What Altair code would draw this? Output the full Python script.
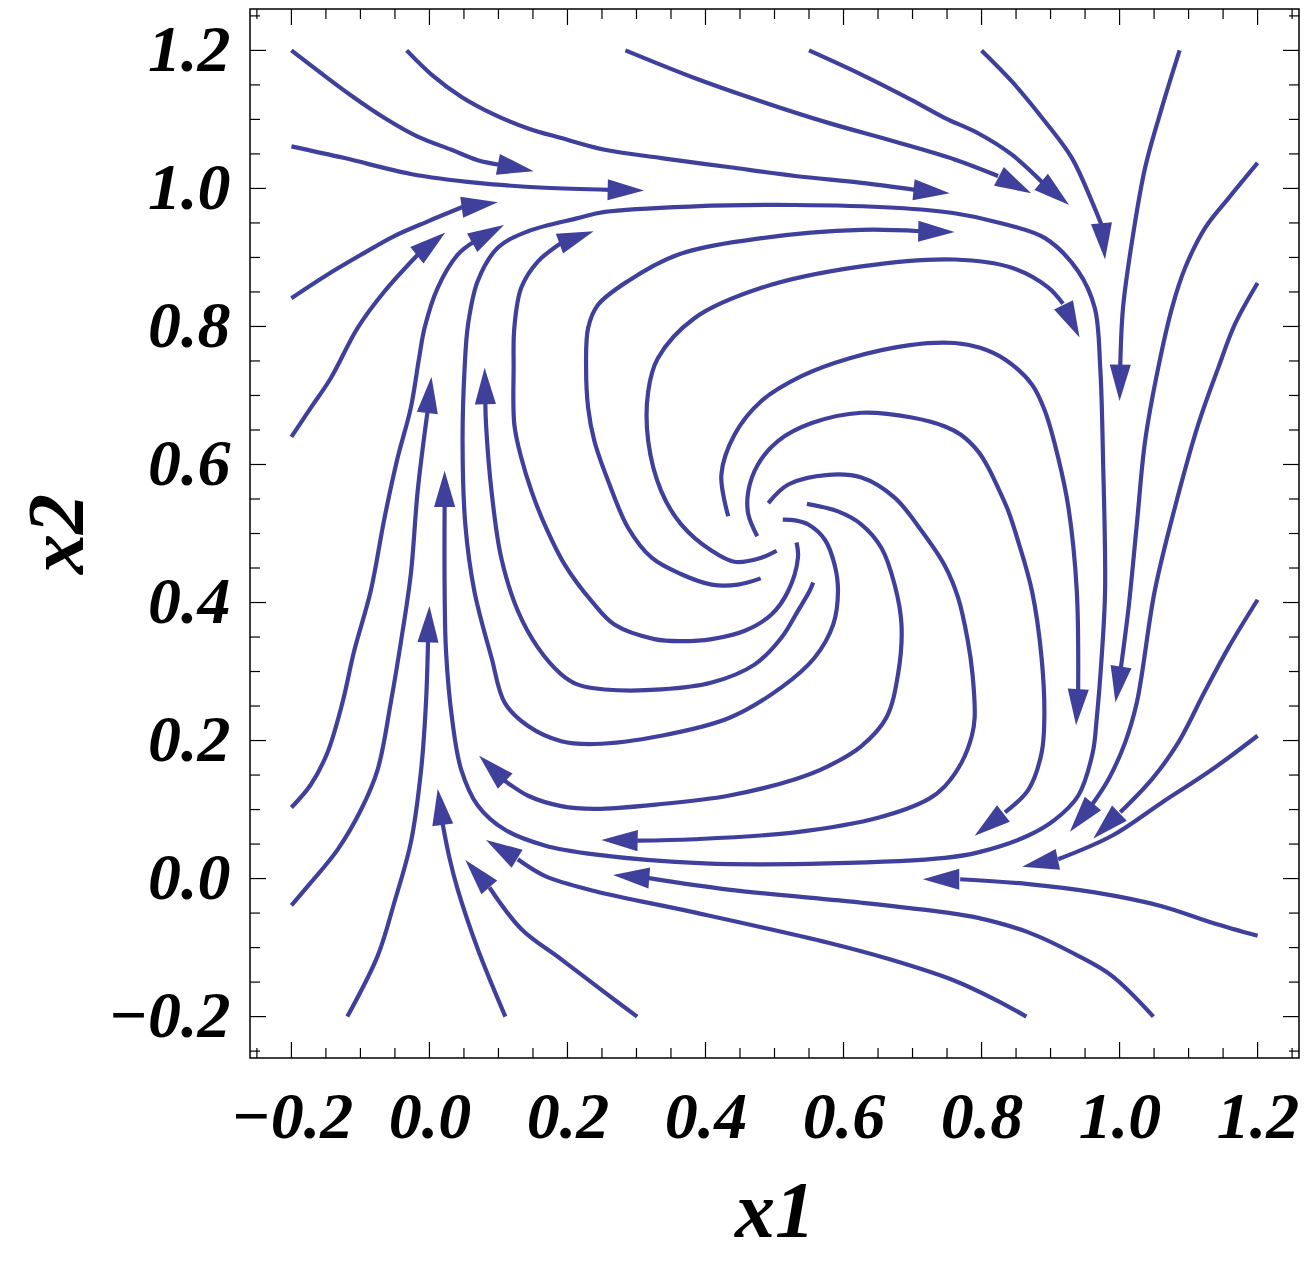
import math
import altair as alt
import pandas as pd

# ---- streamlines (data coords), each runs along the flow; last point = arrow tip ----
t1 = [(-0.200, 1.200), (-0.157, 1.167), (-0.114, 1.135), (-0.065, 1.102), (-0.017, 1.075),
      (0.032, 1.056), (0.070, 1.041), (0.104, 1.034), (0.151, 1.025)]
t2 = [(-0.033, 1.200), (0.003, 1.165), (0.046, 1.133), (0.094, 1.107), (0.143, 1.087), (0.191, 1.073),
      (0.254, 1.056), (0.336, 1.044), (0.433, 1.031), (0.530, 1.018), (0.626, 1.008), (0.704, 0.998),
      (0.754, 0.993)]
t3 = [(0.284, 1.200), (0.384, 1.160), (0.481, 1.126), (0.578, 1.095), (0.674, 1.068), (0.761, 1.042),
      (0.824, 1.018), (0.872, 0.993)]
t4 = [(0.550, 1.200), (0.626, 1.165), (0.699, 1.128), (0.747, 1.102), (0.795, 1.080), (0.844, 1.049),
      (0.892, 1.005), (0.927, 0.976)]
t5 = [(0.800, 1.200), (0.844, 1.155), (0.892, 1.097), (0.931, 1.044), (0.960, 0.981), (0.974, 0.947),
      (0.979, 0.897)]
t6 = [(1.087, 1.200), (1.061, 1.116), (1.037, 1.030), (1.018, 0.923), (1.005, 0.827), (1.001, 0.743),
      (1.000, 0.692)]
l1 = [(-0.200, 1.061), (-0.123, 1.044), (-0.027, 1.021), (0.070, 1.008), (0.167, 1.001), (0.261, 0.998),
      (0.311, 0.997)]
l2 = [(-0.200, 0.841), (-0.148, 0.875), (-0.099, 0.904), (-0.051, 0.931), (-0.003, 0.952), (0.048, 0.973),
      (0.099, 0.980)]
l3 = [(-0.200, 0.640), (-0.172, 0.682), (-0.143, 0.725), (-0.104, 0.798), (-0.065, 0.851), (-0.017, 0.904),
      (0.023, 0.936)]
l4 = [(-0.200, 0.103), (-0.172, 0.136), (-0.148, 0.182), (-0.126, 0.255), (-0.109, 0.330), (-0.085, 0.417),
      (-0.065, 0.523), (-0.046, 0.610), (-0.027, 0.682), (-0.015, 0.754), (-0.007, 0.798), (0.012, 0.856),
      (0.041, 0.904), (0.065, 0.923), (0.108, 0.947)]
l5 = [(-0.200, -0.039), (-0.172, -0.006), (-0.133, 0.042), (-0.099, 0.100), (-0.075, 0.158), (-0.056, 0.255),
      (-0.041, 0.345), (-0.027, 0.441), (-0.017, 0.562), (-0.003, 0.675), (0.003, 0.727)]
b1 = [(-0.119, -0.200), (-0.075, -0.112), (-0.051, -0.035), (-0.027, 0.052), (-0.012, 0.158), (-0.005, 0.255),
      (-0.002, 0.345), (0.000, 0.395)]
b2 = [(0.110, -0.200), (0.070, -0.102), (0.041, -0.016), (0.029, 0.030), (0.019, 0.080), (0.012, 0.130)]
b3 = [(0.301, -0.200), (0.254, -0.165), (0.191, -0.117), (0.133, -0.073), (0.087, -0.013), (0.052, 0.027)]
b4 = [(0.865, -0.200), (0.819, -0.175), (0.761, -0.148), (0.667, -0.117), (0.578, -0.093), (0.384, -0.049),
      (0.239, -0.018), (0.167, 0.004), (0.128, 0.028), (0.082, 0.056)]
b5 = [(1.049, -0.200), (0.989, -0.141), (0.940, -0.112), (0.868, -0.078), (0.795, -0.057), (0.747, -0.049),
      (0.626, -0.035), (0.433, -0.016), (0.316, 0.001), (0.266, 0.005)]
r1 = [(1.200, 1.037), (1.158, 0.986), (1.124, 0.943), (1.095, 0.885), (1.076, 0.827), (1.056, 0.740),
      (1.037, 0.634), (1.025, 0.513), (1.013, 0.392), (1.002, 0.306), (0.994, 0.255)]
r2 = [(1.200, 0.863), (1.167, 0.803), (1.143, 0.740), (1.114, 0.658), (1.080, 0.537), (1.051, 0.417),
      (1.025, 0.255), (1.008, 0.197), (0.984, 0.144), (0.960, 0.107), (0.928, 0.068)]
r3 = [(1.200, 0.404), (1.158, 0.335), (1.124, 0.272), (1.085, 0.197), (1.047, 0.144), (1.001, 0.096),
      (0.962, 0.058)]
r4 = [(1.200, 0.207), (1.134, 0.158), (1.061, 0.110), (0.989, 0.062), (0.911, 0.028), (0.859, 0.017)]
r5 = [(1.200, -0.083), (1.134, -0.064), (1.061, -0.040), (0.964, -0.020), (0.868, -0.008), (0.769, -0.001),
      (0.715, -0.001)]
c1 = [(0.433, 0.525), (0.423, 0.585), (0.442, 0.643), (0.481, 0.692), (0.539, 0.728), (0.609, 0.754),
      (0.696, 0.773), (0.761, 0.776), (0.798, 0.769), (0.834, 0.752), (0.873, 0.716), (0.892, 0.677),
      (0.911, 0.610), (0.926, 0.537), (0.938, 0.417), (0.940, 0.272), (0.937, 0.222)]
c2 = [(0.503, 0.475), (0.481, 0.465), (0.442, 0.459), (0.409, 0.475), (0.365, 0.513), (0.336, 0.561),
      (0.317, 0.634), (0.317, 0.706), (0.331, 0.754), (0.384, 0.812), (0.481, 0.856), (0.626, 0.887),
      (0.761, 0.897), (0.844, 0.885), (0.896, 0.857), (0.918, 0.833), (0.942, 0.784)]
c3 = [(0.512, 0.520), (0.530, 0.519), (0.549, 0.513), (0.573, 0.491), (0.587, 0.455), (0.592, 0.417),
      (0.585, 0.368), (0.558, 0.320), (0.510, 0.277), (0.435, 0.233), (0.336, 0.207), (0.239, 0.195),
      (0.191, 0.199), (0.143, 0.221), (0.109, 0.255), (0.090, 0.320), (0.065, 0.417), (0.052, 0.513),
      (0.048, 0.634), (0.051, 0.740), (0.056, 0.803), (0.070, 0.866), (0.099, 0.914), (0.143, 0.938),
      (0.215, 0.957), (0.254, 0.966), (0.384, 0.974), (0.530, 0.976), (0.674, 0.972), (0.761, 0.964),
      (0.827, 0.950), (0.892, 0.928), (0.940, 0.880), (0.964, 0.827), (0.972, 0.740), (0.976, 0.610),
      (0.979, 0.417), (0.974, 0.320), (0.967, 0.233), (0.961, 0.182), (0.940, 0.120), (0.906, 0.085),
      (0.867, 0.062), (0.795, 0.038), (0.747, 0.030), (0.577, 0.022), (0.399, 0.022), (0.239, 0.035),
      (0.167, 0.048), (0.109, 0.071), (0.070, 0.106), (0.046, 0.158), (0.033, 0.230), (0.024, 0.330),
      (0.022, 0.421), (0.022, 0.540), (0.022, 0.591)]
c4 = [(0.532, 0.487), (0.534, 0.465), (0.520, 0.417), (0.496, 0.383), (0.457, 0.359), (0.409, 0.347),
      (0.365, 0.344), (0.326, 0.347), (0.268, 0.368), (0.235, 0.402), (0.196, 0.455), (0.167, 0.513),
      (0.148, 0.561), (0.133, 0.610), (0.123, 0.658), (0.122, 0.740), (0.123, 0.798), (0.133, 0.856),
      (0.157, 0.894), (0.191, 0.921), (0.238, 0.938)]
c5 = [(0.475, 0.496), (0.462, 0.528), (0.462, 0.561), (0.476, 0.600), (0.505, 0.634), (0.554, 0.660),
      (0.626, 0.675), (0.699, 0.668), (0.747, 0.655), (0.770, 0.643), (0.795, 0.619), (0.810, 0.595),
      (0.824, 0.566), (0.839, 0.532), (0.853, 0.489), (0.873, 0.417), (0.887, 0.320), (0.891, 0.233),
      (0.887, 0.182), (0.868, 0.129), (0.834, 0.096), (0.790, 0.062)]
c6 = [(0.491, 0.544), (0.520, 0.571), (0.578, 0.585), (0.626, 0.581), (0.674, 0.552), (0.713, 0.504),
      (0.747, 0.453), (0.766, 0.407), (0.780, 0.345), (0.787, 0.295), (0.790, 0.233), (0.786, 0.207),
      (0.771, 0.168), (0.747, 0.134), (0.723, 0.115), (0.650, 0.088), (0.530, 0.067), (0.384, 0.057),
      (0.301, 0.055), (0.249, 0.056)]
c7 = [(0.547, 0.543), (0.592, 0.532), (0.626, 0.513), (0.655, 0.479), (0.674, 0.426), (0.684, 0.368),
      (0.679, 0.296), (0.662, 0.233), (0.626, 0.192), (0.578, 0.163), (0.530, 0.144), (0.433, 0.120),
      (0.336, 0.108), (0.239, 0.101), (0.191, 0.105), (0.143, 0.120), (0.109, 0.142), (0.072, 0.178)]
c8 = [(0.556, 0.429), (0.551, 0.417), (0.534, 0.388), (0.510, 0.349), (0.471, 0.310), (0.409, 0.284),
      (0.336, 0.274), (0.254, 0.274), (0.215, 0.281), (0.191, 0.296), (0.157, 0.335), (0.128, 0.388),
      (0.104, 0.465), (0.090, 0.561), (0.082, 0.658), (0.081, 0.689), (0.080, 0.740)]
c9 = [(0.480, 0.435), (0.447, 0.426), (0.409, 0.426), (0.365, 0.441), (0.322, 0.465), (0.288, 0.508),
      (0.259, 0.576), (0.239, 0.634), (0.230, 0.682), (0.227, 0.740), (0.230, 0.798), (0.244, 0.831),
      (0.288, 0.866), (0.360, 0.904), (0.481, 0.928), (0.626, 0.940), (0.711, 0.938), (0.761, 0.937)]

streams = {"t1": t1, "t2": t2, "t3": t3, "t4": t4, "t5": t5, "t6": t6,
           "l1": l1, "l2": l2, "l3": l3, "l4": l4, "l5": l5,
           "b1": b1, "b2": b2, "b3": b3, "b4": b4, "b5": b5,
           "r1": r1, "r2": r2, "r3": r3, "r4": r4, "r5": r5,
           "c1": c1, "c2": c2, "c3": c3, "c4": c4, "c5": c5, "c6": c6, "c7": c7, "c8": c8, "c9": c9}

# ---- axis ticks ----
major_ticks = [-0.2, 0.0, 0.2, 0.4, 0.6, 0.8, 1.0, 1.2]
minor_ticks = [-0.25, -0.15, -0.1, -0.05, 0.05, 0.1, 0.15, 0.25, 0.3, 0.35, 0.45, 0.5, 0.55,
               0.65, 0.7, 0.75, 0.85, 0.9, 0.95, 1.05, 1.1, 1.15, 1.25]

line_rows, arrow_rows = [], []
for name, pts in streams.items():
    for i, (x, y) in enumerate(pts[:-1]):
        line_rows.append({"s": name, "i": i, "x": x, "y": y})
    (bx, by), (tx, ty) = pts[-2], pts[-1]
    ang = math.degrees(math.atan2(-(ty - by), tx - bx)) % 360
    arrow_rows.append({"s": name, "x": tx, "y": ty, "a": ang})

W = H = 1049
C = "#3f3f9c"
FONT = "Liberation Serif"
xs = alt.Scale(domain=[-0.26, 1.26], nice=False, zero=False)
ys = alt.Scale(domain=[-0.26, 1.26], nice=False, zero=False)

common = dict(ticks=False, domain=False, grid=False, labelFont=FONT, labelFontSize=66,
              labelFontStyle="italic", labelFontWeight="bold", labelColor="black",
              titleFont=FONT, titleFontSize=80, titleFontStyle="italic", titleFontWeight="bold",
              titleColor="black", labelOverlap=False, labelFlush=False, format=".1f")
xaxis = alt.Axis(values=major_ticks, title="x1", labelPadding=27, titleY=178,
                 titleBaseline="alphabetic", **common)
yaxis = alt.Axis(values=major_ticks, title="x2", labelPadding=20, titleX=-168, titleY=H / 2,
                 titleAngle=270, titleBaseline="alphabetic", **common)


def X(field):
    return alt.X(field, scale=xs, axis=xaxis)


def Y(field):
    return alt.Y(field, scale=ys, axis=yaxis)


lines = alt.Chart(pd.DataFrame(line_rows)).mark_line(
    color=C, strokeWidth=4.2, interpolate="catmull-rom").encode(
    x=X("x:Q"), y=Y("y:Q"), detail="s:N", order="i:Q")

arrows = alt.Chart(pd.DataFrame(arrow_rows)).mark_point(
    shape="M0,0L-1,-0.29L-1,0.29Z", filled=True, color=C, opacity=1, size=5300, strokeWidth=0).encode(
    x=X("x:Q"), y=Y("y:Q"), angle=alt.Angle("a:Q", scale=None))


def ticks(vals, side, length):
    ch = alt.Chart(pd.DataFrame({"v": vals})).mark_rule(color="black", strokeWidth=1.2)
    if side == "bottom":
        return ch.encode(x=X("v:Q"), y=alt.value(H), y2=alt.value(H - length))
    if side == "top":
        return ch.encode(x=X("v:Q"), y=alt.value(0), y2=alt.value(length))
    if side == "left":
        return ch.encode(y=Y("v:Q"), x=alt.value(0), x2=alt.value(length))
    return ch.encode(y=Y("v:Q"), x=alt.value(W), x2=alt.value(W - length))


tick_layers = []
for side in ["bottom", "top", "left", "right"]:
    tick_layers.append(ticks(major_ticks, side, 16))
    tick_layers.append(ticks(minor_ticks, side, 10))

chart = alt.layer(lines, arrows, *tick_layers).properties(
    width=W, height=H,
    padding={"left": 242, "top": 1, "right": 5, "bottom": 196},
    autosize=alt.AutoSizeParams(type="none"),
).configure_view(stroke="black", strokeWidth=1.5)

chart.save("out.html", embed_options={"renderer": "svg", "actions": False})
